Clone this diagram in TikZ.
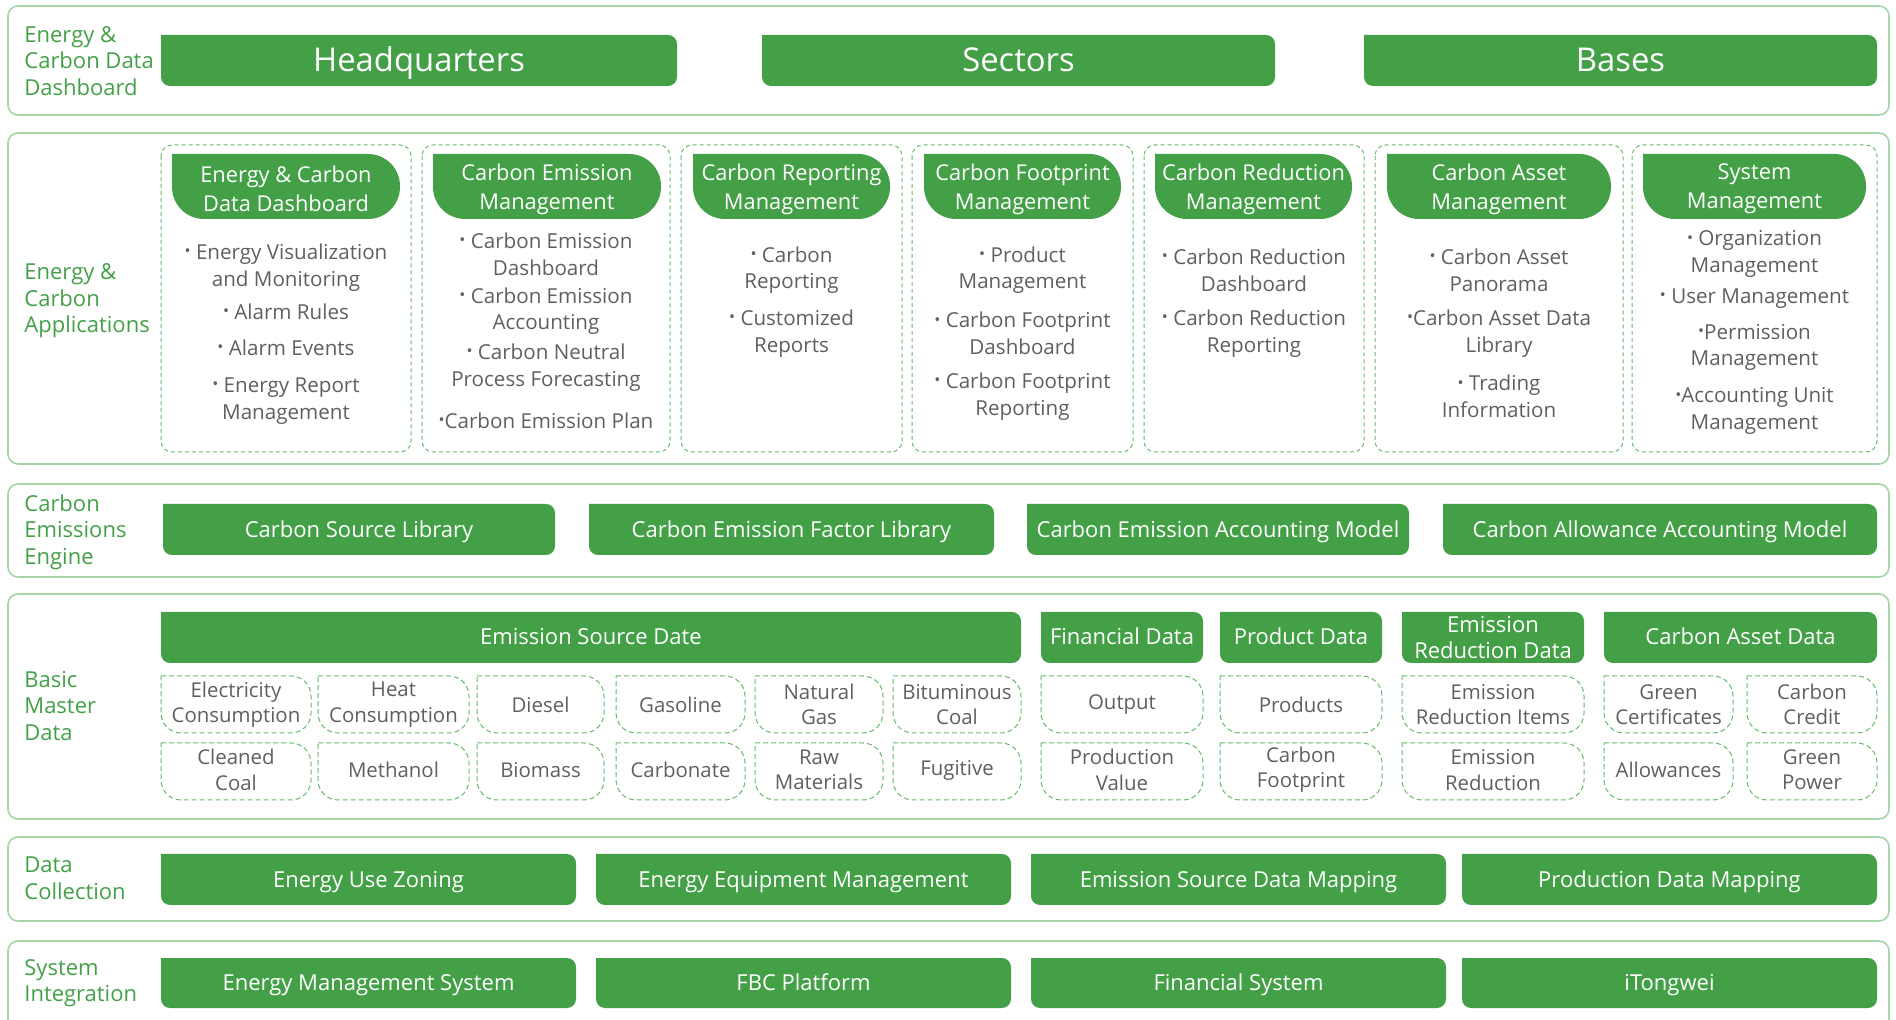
\documentclass[tikz,border=0pt]{standalone}
\usepackage{fontspec}
\setmainfont{Open Sans}

\definecolor{boxgreen}{HTML}{43A047}
\definecolor{labelgreen}{HTML}{43A047}
\definecolor{framegreen}{HTML}{A5D6A7}
\definecolor{dashgreen}{HTML}{66BB6A}
\definecolor{itemgray}{HTML}{5F5F5F}

% small list bullet
\newcommand{\bul}{\raisebox{0.25ex}{\fontsize{8}{8}\selectfont •}}

% box with a sharp top left corner and round other corners
% #1 style, #2 radius, #3 x1, #4 y1, #5 x2, #6 y2 (pixels, y downwards)
\newcommand{\leafpath}[6]{%
  \path[#1] (#3,-#4) -- ({#5-#2},-#4) arc[start angle=90,end angle=0,radius=#2]
    -- (#5,{-#6+#2}) arc[start angle=0,end angle=-90,radius=#2]
    -- ({#3+#2},-#6) arc[start angle=270,end angle=180,radius=#2] -- cycle;}

\tikzset{
  layer/.style={draw=framegreen, line width=0.8pt, rounded corners=5pt},
  layerlabel/.style={text=labelgreen, anchor=west, align=left, inner sep=0pt,
    font=\fontsize{11}{13.3}\selectfont},
  gfill/.style={fill=boxgreen},
  bigtext/.style={text=white, text height=11.7pt, text depth=0pt,
    font=\fontsize{16.4}{19}\selectfont},
  boxtext/.style={text=white, text height=7.9pt, text depth=0pt,
    font=\fontsize{11}{13}\selectfont},
  boxtwo/.style={text=white, align=center, font=\fontsize{11}{13}\selectfont},
  headtext/.style={text=white, align=center, font=\fontsize{10.9}{14.5}\selectfont},
  item/.style={text=itemgray, align=center, font=\fontsize{10.3}{13.3}\selectfont},
  celltext/.style={text=itemgray, align=center, font=\fontsize{10.2}{12.7}\selectfont},
  column/.style={draw=dashgreen, line width=0.5pt, dash pattern=on 2pt off 1.5pt,
    rounded corners=5.5pt},
  cell/.style={draw=dashgreen, line width=0.5pt, dash pattern=on 2.5pt off 1.5pt},
}

\begin{document}
\begin{tikzpicture}[x=0.5pt,y=0.5pt]
  \useasboundingbox (0,0) rectangle (1896,-1020);
  \clip (0,0) rectangle (1896,-1020);

  % layer frames
  \draw[layer] (8,-6) rectangle (1889,-115);
  \draw[layer] (8,-133) rectangle (1889,-464);
  \draw[layer] (8,-484) rectangle (1889,-577);
  \draw[layer] (8,-594) rectangle (1889,-819);
  \draw[layer] (8,-837) rectangle (1889,-921);
  \draw[layer] (8,-941) rectangle (1889,-1060);

  % layer names
  \node[layerlabel] (dashlab) at (24,-61) {Energy \&\\Carbon Data\\Dashboard};
  \node[layerlabel] (applab) at (24,-301) {Energy \&\\Carbon\\Applications};
  \node[layerlabel] (englab) at (24,-532) {Carbon\\Emissions\\Engine};
  \node[layerlabel] (baselab) at (24,-706) {Basic\\Master\\Data};
  \node[layerlabel] (collab) at (24,-878.5) {Data\\Collection};
  \node[layerlabel] (intlab) at (24,-983) {System\\Integration};

  % dashboard row
  \foreach \xa/\xb/\t/\n in {161/677/Headquarters/hq, 762/1275/Sectors/sec,
      1364/1877/Bases/bas} {
    \leafpath{gfill}{9}{\xa}{35}{\xb}{86}
    \node[bigtext] (\n) at ({(\xa+\xb)/2},-59.5) {\t};
  }

  % application columns with their headers
  \foreach \xa/\xb/\ha/\hb/\t [count=\i] in {
      161/411/172/400/{Energy \& Carbon\\Data Dashboard},
      422/670/433/661/{Carbon Emission\\Management},
      681/902/693/890/{Carbon Reporting\\Management},
      912/1133/924/1121/{Carbon Footprint\\Management},
      1144/1364/1155/1352/{Carbon Reduction\\Management},
      1375/1623/1387/1611/{Carbon Asset\\Management},
      1632/1877/1643/1866/{System\\Management}} {
    \path[column] (\xa,-145) rectangle (\xb,-452);
    \leafpath{gfill}{32}{\ha}{154}{\hb}{219}
    \node[headtext] (app\i) at ({(\ha+\hb)/2},-189) {\t};
  }

  % application items, one loop per column
  \foreach \y/\t [count=\k] in {267.5/{\bul{} Energy Visualization\\and Monitoring},
      311.5/{\bul{} Alarm Rules}, 347.5/{\bul{} Alarm Events},
      401/{\bul{} Energy Report\\Management}}
    \node[item] (ia\k) at (286,-\y) {\t};
  \foreach \y/\t [count=\k] in {254/{\bul{} Carbon Emission\\Dashboard},
      311/{\bul{} Carbon Emission\\Accounting},
      367.5/{\bul{} Carbon Neutral\\Process Forecasting},
      420.5/{\bul{}Carbon Emission Plan}}
    \node[item] (ib\k) at (546,-\y) {\t};
  \foreach \y/\t [count=\k] in {270/{\bul{} Carbon\\Reporting},
      333.5/{\bul{} Customized\\Reports}}
    \node[item] (ic\k) at (791.5,-\y) {\t};
  \foreach \y/\t [count=\k] in {270/{\bul{} Product\\Management},
      333.5/{\bul{} Carbon Footprint\\Dashboard},
      396.5/{\bul{} Carbon Footprint\\Reporting}}
    \node[item] (id\k) at (1022.5,-\y) {\t};
  \foreach \y/\t [count=\k] in {270/{\bul{} Carbon Reduction\\Dashboard},
      333.5/{\bul{} Carbon Reduction\\Reporting}}
    \node[item] (ie\k) at (1254,-\y) {\t};
  \foreach \y/\t [count=\k] in {270/{\bul{} Carbon Asset\\Panorama},
      333.5/{\bul{}Carbon Asset Data\\Library},
      396.5/{\bul{} Trading\\Information}}
    \node[item] (if\k) at (1499,-\y) {\t};
  \foreach \y/\t [count=\k] in {254/{\bul{} Organization\\Management},
      298.5/{\bul{} User Management},
      347.5/{\bul{}Permission\\Management},
      411/{\bul{}Accounting Unit\\Management}}
    \node[item] (ig\k) at (1754.5,-\y) {\t};

  % emissions engine
  \foreach \xa/\xb/\t [count=\i] in {163/555/Carbon Source Library,
      589/994/Carbon Emission Factor Library,
      1027/1409/Carbon Emission Accounting Model,
      1443/1877/Carbon Allowance Accounting Model} {
    \leafpath{gfill}{9}{\xa}{504}{\xb}{555}
    \node[boxtext] (eng\i) at ({(\xa+\xb)/2},-529.5) {\t};
  }

  % master data groups
  \foreach \xa/\xb/\t [count=\i] in {161/1021/Emission Source Date,
      1041/1203/Financial Data, 1220/1382/Product Data,
      1604/1877/Carbon Asset Data} {
    \leafpath{gfill}{9}{\xa}{612}{\xb}{663}
    \node[boxtext] (grp\i) at ({(\xa+\xb)/2},-636.5) {\t};
  }
  \leafpath{gfill}{9}{1402}{612}{1584}{663}
  \node[boxtwo] (grpred) at (1493,-637.5) {Emission\\Reduction Data};

  % master data cells, two rows
  \foreach \xa/\xb/\ta/\tb [count=\i] in {
      161/311/{Electricity\\Consumption}/{Cleaned\\Coal},
      318/469/{Heat\\Consumption}/Methanol,
      477/604/Diesel/Biomass,
      616/745/Gasoline/Carbonate,
      755/883/{Natural\\Gas}/{Raw\\Materials},
      893/1021/{Bituminous\\Coal}/Fugitive,
      1041/1203/Output/{Production\\Value},
      1220/1382/Products/{Carbon\\Footprint},
      1402/1584/{Emission\\Reduction Items}/{Emission\\Reduction},
      1604/1733/{Green\\Certificates}/Allowances,
      1747/1877/{Carbon\\Credit}/{Green\\Power}} {
    \leafpath{cell}{20}{\xa}{676}{\xb}{733}
    \node[celltext] (ra\i) at ({(\xa+\xb)/2},-704.5) {\ta};
    \leafpath{cell}{20}{\xa}{743}{\xb}{800}
    \node[celltext] (rb\i) at ({(\xa+\xb)/2},-770) {\tb};
  }

  % data collection
  \foreach \xa/\xb/\t [count=\i] in {161/576/Energy Use Zoning,
      596/1011/Energy Equipment Management,
      1031/1446/Emission Source Data Mapping,
      1462/1877/Production Data Mapping} {
    \leafpath{gfill}{9}{\xa}{854}{\xb}{905}
    \node[boxtext] (col\i) at ({(\xa+\xb)/2},-879.5) {\t};
  }

  % system integration
  \foreach \xa/\xb/\t [count=\i] in {161/576/Energy Management System,
      596/1011/FBC Platform, 1031/1446/Financial System,
      1462/1877/iTongwei} {
    \leafpath{gfill}{9}{\xa}{958}{\xb}{1008}
    \node[boxtext] (int\i) at ({(\xa+\xb)/2},-983) {\t};
  }
\end{tikzpicture}
\end{document}
